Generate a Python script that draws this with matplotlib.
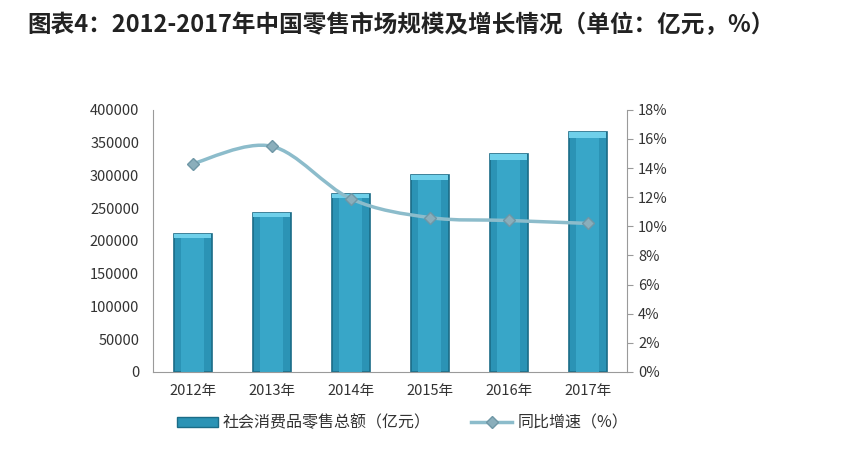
import matplotlib
matplotlib.use('Agg')
import matplotlib.pyplot as plt
from matplotlib.path import Path
from matplotlib.patches import PathPatch, Patch
from matplotlib.lines import Line2D
import numpy as np

plt.rcParams['font.family'] = ['Noto Sans CJK SC', 'DejaVu Sans']

years = ['2012年', '2013年', '2014年', '2015年', '2016年', '2017年']
retail_total = [210300, 242800, 271900, 300900, 332300, 366300]
growth_pct = [14.3, 15.5, 11.9, 10.6, 10.4, 10.2]
left_ticks = [0, 50000, 100000, 150000, 200000, 250000, 300000, 350000, 400000]
right_ticks = [0, 2, 4, 6, 8, 10, 12, 14, 16, 18]

title = '图表4：2012-2017年中国零售市场规模及增长情况（单位：亿元，%）'
bar_label = '社会消费品零售总额（亿元）'
line_label = '同比增速（%）'

bar_color = '#2b93b5'
bar_edge = '#1b6c87'
line_color = '#8cbccb'
marker_color = '#8aaebb'
text_color = '#333333'
axis_color = '#9a9a9a'

fig = plt.figure(figsize=(8.65, 4.54), dpi=100)
ax = fig.add_axes([0.177, 0.181, 0.548, 0.577])
x = np.arange(len(years))

bars = ax.bar(x, retail_total, width=0.48, color=bar_color, edgecolor=bar_edge,
              linewidth=1.2, zorder=2)
# lighter bevel strip on each bar
ax.bar(x, retail_total, width=0.30, color='#38a6c8', linewidth=0, zorder=2)
ax.bar(x, [v * 0.025 for v in retail_total], bottom=[v * 0.975 for v in retail_total],
       width=0.46, color='#6fd0ea', linewidth=0, zorder=3)

ax.set_xlim(-0.5, len(years) - 0.5)
ax.set_ylim(0, 400000)
ax.set_yticks(left_ticks)
ax.set_yticklabels([str(v) for v in left_ticks], fontsize=10.5, color=text_color)
ax.set_xticks(x)
ax.set_xticklabels(years, fontsize=10.5, color=text_color)
ax.tick_params(axis='x', length=0, pad=9)
ax.tick_params(axis='y', length=0, pad=10)
for s in ['top', 'right']:
    ax.spines[s].set_visible(False)
ax.spines['left'].set_color(axis_color)
ax.spines['bottom'].set_color(axis_color)

ax2 = ax.twinx()
ax2.set_ylim(0, 18)
ax2.set_yticks(right_ticks)
ax2.set_yticklabels([f'{v}%' for v in right_ticks], fontsize=10.5, color=text_color)
ax2.tick_params(axis='y', length=4, color=axis_color, pad=4)
for s in ['top', 'left', 'bottom']:
    ax2.spines[s].set_visible(False)
ax2.spines['right'].set_color(axis_color)

# smoothed line (Catmull-Rom as cubic Bezier segments through the data points)
pts = np.column_stack([x, growth_pct]).astype(float)
verts = [tuple(pts[0])]
codes = [Path.MOVETO]
n = len(pts)
for i in range(n - 1):
    p0 = pts[i - 1] if i > 0 else pts[i]
    p1 = pts[i]
    p2 = pts[i + 1]
    p3 = pts[i + 2] if i + 2 < n else pts[i + 1]
    c1 = p1 + (p2 - p0) / 6.0
    c2 = p2 - (p3 - p1) / 6.0
    verts += [tuple(c1), tuple(c2), tuple(p2)]
    codes += [Path.CURVE4] * 3
ax2.add_patch(PathPatch(Path(verts, codes), facecolor='none', edgecolor=line_color,
                        linewidth=2.5, zorder=4))
ax2.plot(x, growth_pct, linestyle='none', marker='D', markersize=6,
         markerfacecolor=marker_color, markeredgecolor='#6f97a6', zorder=5)

fig.text(0.032, 0.945, title, fontsize=17, fontweight='bold', color='#222222',
         va='center', ha='left')

handles = [Patch(facecolor=bar_color, edgecolor=bar_edge),
           Line2D([0], [0], color=line_color, linewidth=2.5, marker='D',
                  markersize=6, markerfacecolor=marker_color, markeredgecolor='#6f97a6')]
fig.legend(handles, [bar_label, line_label], loc='center', bbox_to_anchor=(0.465, 0.068),
           ncol=2, frameon=False, fontsize=11.5, handlelength=2.6, handleheight=0.6,
           columnspacing=2.5, handletextpad=0.3, labelcolor=text_color)

fig.savefig('out.png', dpi=100, facecolor='white')
